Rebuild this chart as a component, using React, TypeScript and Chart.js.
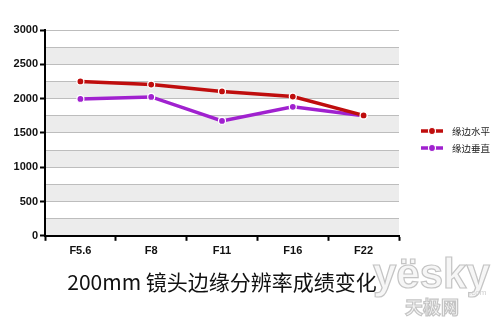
import React, { useEffect, useRef } from "react";
import { Chart, registerables } from "chart.js";

Chart.register(...registerables);

const categories = ["F5.6", "F8", "F11", "F16", "F22"];
const horizontalValues = [2250, 2205, 2105, 2030, 1755];
const verticalValues = [1995, 2025, 1675, 1880, 1750];
const seriesNames = ["缘边水平", "缘边垂直"];
const seriesColors = ["#bf0d0d", "#a021cf"];
const titleText = "200mm 镜头边缘分辨率成绩变化";

const bandsPlugin = {
  id: "bands",
  beforeDraw(chart: any) {
    const { ctx, chartArea, scales } = chart;
    const y = scales.y;
    ctx.save();
    ctx.fillStyle = "#ececec";
    for (let v = 0; v < 3000; v += 500) {
      const top = y.getPixelForValue(v + 250);
      const bot = y.getPixelForValue(v);
      ctx.fillRect(chartArea.left, top, chartArea.right - chartArea.left, bot - top);
    }
    ctx.restore();
  },
};

const legendPlugin = {
  id: "customLegend",
  afterDraw(chart: any) {
    const { ctx } = chart;
    ctx.save();
    const ys = [131, 148];
    seriesNames.forEach((name, i) => {
      const yy = ys[i];
      ctx.strokeStyle = seriesColors[i];
      ctx.lineWidth = 3.5;
      ctx.beginPath();
      ctx.moveTo(421, yy);
      ctx.lineTo(443, yy);
      ctx.stroke();
      ctx.beginPath();
      ctx.arc(432, yy, 3.5, 0, Math.PI * 2);
      ctx.fillStyle = seriesColors[i];
      ctx.fill();
      ctx.lineWidth = 1.2;
      ctx.strokeStyle = "#ffffff";
      ctx.stroke();
      ctx.fillStyle = "#222";
      ctx.font = "9.5px 'Noto Sans CJK SC', sans-serif";
      ctx.textBaseline = "middle";
      ctx.textAlign = "left";
      ctx.fillText(name, 452, yy);
    });
    // watermark
    ctx.font = "bold 42px Arial, sans-serif";
    ctx.lineWidth = 1.2;
    ctx.strokeStyle = "#c4c4c4";
    ctx.fillStyle = "#f6f6f6";
    ctx.textBaseline = "alphabetic";
    ctx.fillText("yësky", 373, 288);
    ctx.strokeText("yësky", 373, 288);
    ctx.font = "bold 18px 'Noto Sans CJK SC', sans-serif";
    ctx.fillText("天极网", 405, 314);
    ctx.strokeText("天极网", 405, 314);
    ctx.font = "8px Arial, sans-serif";
    ctx.fillStyle = "#cfcfcf";
    ctx.fillText(".com", 469, 295);
    ctx.restore();
  },
};

export default function App() {
  const ref = useRef<HTMLCanvasElement>(null);
  useEffect(() => {
    if (!ref.current) return;
    const chart = new Chart(ref.current, {
      type: "line",
      data: {
        labels: categories,
        datasets: [
          {
            label: seriesNames[0],
            data: horizontalValues,
            borderColor: seriesColors[0],
            backgroundColor: seriesColors[0],
            borderWidth: 3.5,
            pointRadius: 3.5,
            pointBorderColor: "#ffffff",
            pointBorderWidth: 1.2,
            tension: 0,
          },
          {
            label: seriesNames[1],
            data: verticalValues,
            borderColor: seriesColors[1],
            backgroundColor: seriesColors[1],
            borderWidth: 3.5,
            pointRadius: 3.5,
            pointBorderColor: "#ffffff",
            pointBorderWidth: 1.2,
            tension: 0,
          },
        ],
      },
      options: {
        animation: false,
        responsive: false,
        layout: { padding: { left: 0, right: 101, top: 30, bottom: 0 } },
        plugins: {
          legend: { display: false },
          tooltip: { enabled: false },
          title: {
            display: true,
            text: titleText,
            position: "bottom",
            fullSize: false,
            color: "#111",
            font: { size: 21, weight: "normal", family: "'Noto Sans CJK SC', sans-serif" },
            padding: { top: 4, bottom: 27 },
          },
        },
        scales: {
          x: {
            offset: true,
            grid: {
              offset: true,
              drawOnChartArea: false,
              tickLength: 5,
              tickColor: "#000",
              tickWidth: 2,
            },
            border: { color: "#000", width: 2 },
            ticks: {
              color: "#111",
              font: { size: 11, weight: "bold", family: "Arial, sans-serif" },
              padding: 4,
            },
            afterFit(scale: any) {
              scale.height = 30;
            },
          },
          y: {
            min: 0,
            max: 3000,
            grid: {
              color: "#bdbdbd",
              lineWidth: 1,
              tickLength: 5,
              tickColor: (c: any) => (c.tick && c.tick.value % 500 === 0 ? "#000" : "rgba(0,0,0,0)"),
              tickWidth: 2,
            },
            border: { color: "#000", width: 2 },
            ticks: {
              stepSize: 250,
              autoSkip: false,
              color: "#111",
              padding: 2,
              font: { size: 11, weight: "bold", family: "Arial, sans-serif" },
              callback: (v: any) => (Number(v) % 500 === 0 ? String(v) : ""),
            },
            afterFit(scale: any) {
              scale.width = 45;
            },
          },
        },
      },
      plugins: [bandsPlugin, legendPlugin],
    });
    return () => chart.destroy();
  }, []);
  return (
    <div style={{ position: "absolute", left: 0, top: 0, width: 500, height: 322, background: "#fff" }}>
      <canvas ref={ref} width={500} height={322} style={{ width: 500, height: 322 }} />
    </div>
  );
}
